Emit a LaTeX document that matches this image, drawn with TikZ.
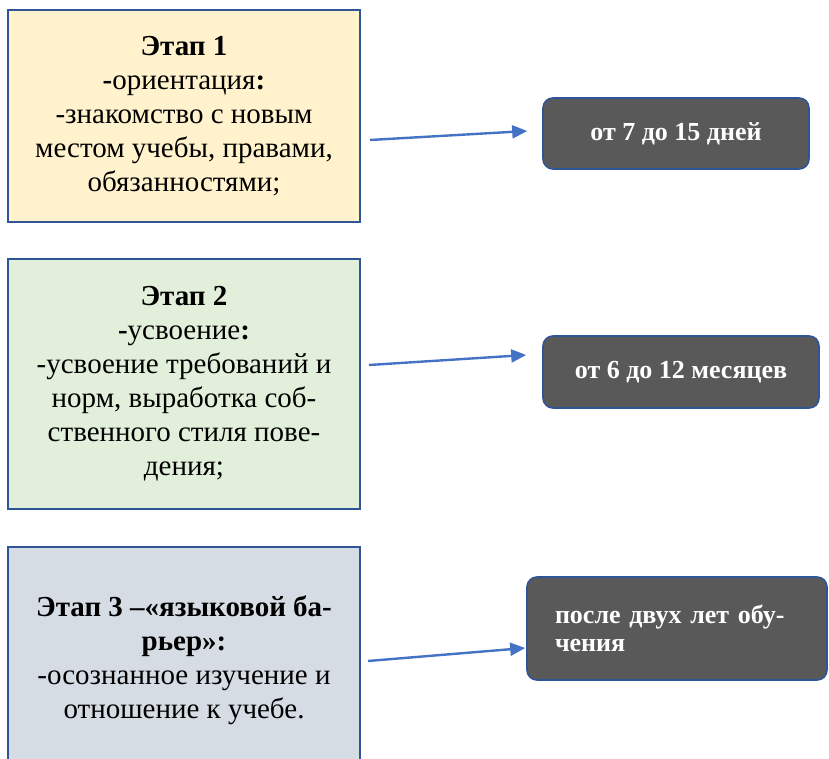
\documentclass[tikz,border=0pt]{standalone}
\usepackage{fontspec}
\setmainfont{Liberation Serif}
\usepackage{xcolor}
\usepackage{tikz}
\usetikzlibrary{arrows.meta,positioning,calc}
\definecolor{edgeblue}{HTML}{2F5597}
\definecolor{arrowblue}{HTML}{4472C4}
\definecolor{stageone}{HTML}{FFF2CC}
\definecolor{stagetwo}{HTML}{E2EFDA}
\definecolor{stagethree}{HTML}{D6DCE4}
\definecolor{termgray}{HTML}{595959}

\begin{document}
\begin{tikzpicture}[
    x=1pt, y=1pt,
    node distance=35pt,
    stage/.style={draw=edgeblue, line width=2pt, align=center, minimum width=352pt, font=\fontsize{29}{34}\selectfont},
    term/.style={draw=edgeblue, line width=1.6pt, rounded corners=10pt, fill=termgray, text=white, align=center, font=\bfseries\fontsize{26}{28}\selectfont},
    arrow/.style={-{Triangle[length=15pt,width=13pt]}, line width=2.4pt, draw=arrowblue}
]
\clip (0,0) rectangle (829,758);
\node[stage, fill=stageone, minimum height=212pt] (st1) at (184,642) {\textbf{Этап 1}\\\textbf{-}ориентация\textbf{:}\\-знакомство с новым\\местом учебы, правами,\\обязанностями;};
\node[stage, fill=stagetwo, minimum height=250pt, below=of st1] (st2) {\textbf{Этап 2}\\\textbf{-}усвоение\textbf{:}\\-усвоение требований и\\норм, выработка соб-\\ственного стиля пове-\\дения;};
\node[stage, fill=stagethree, minimum height=226pt, below=36pt of st2] (st3) {\textbf{Этап 3 –«языковой ба-}\\\textbf{рьер»:}\\-осознанное изучение и\\отношение к учебе.};
\node[term, minimum width=266pt, minimum height=71pt] (dur1) at (676,624.5) {от 7 до 15 дней};
\node[term, minimum width=276pt, minimum height=72pt] (dur2) at (681,386) {от 6 до 12 месяцев};
\node[term, align=left, text width=244pt, inner xsep=28pt, minimum height=103pt] (dur3) at (677,129.5) {после двух лет обу-\\чения};
\draw[arrow] ($(st1.east)+(9,-24)$) -- ($(dur1.west)+(-15,2.5)$);
\draw[arrow] ($(st2.east)+(8,19)$) -- ($(dur2.west)+(-16,17)$);
\draw[arrow] ($(st3.east)+(7,-1)$) -- ($(dur3.west)+(-1,-19.5)$);
\end{tikzpicture}
\end{document}
